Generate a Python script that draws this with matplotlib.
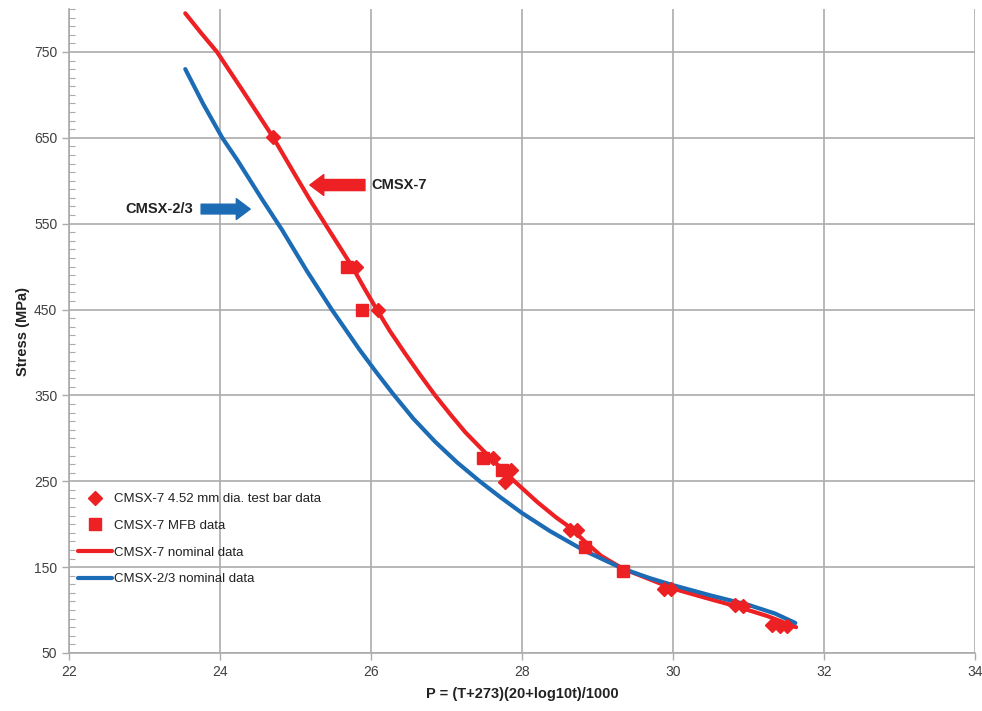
import matplotlib
matplotlib.use("Agg")
import matplotlib.pyplot as plt
from matplotlib.ticker import MultipleLocator

# ---- data ----
test_bar_p = [24.70, 25.80, 26.09, 27.61, 27.85, 27.77, 28.64, 28.73,
              29.88, 29.97, 30.82, 30.93, 31.31, 31.42, 31.51]
test_bar_s = [651, 500, 449, 277, 263, 249, 193, 193,
              124, 124, 106, 105, 83, 82, 82]

mfb_p = [25.68, 25.88, 27.48, 27.73, 28.83, 29.34]
mfb_s = [500, 449, 277, 263, 174, 145]

cmsx7_p = [23.54, 23.75, 23.96, 24.30, 24.70, 25.00, 25.19, 25.39, 25.57,
           25.75, 25.91, 26.07, 26.25, 26.45, 26.65, 26.85, 27.05, 27.25,
           27.45, 27.62, 27.90, 28.20, 28.45, 28.64, 28.83, 29.05, 29.34,
           29.63, 30.00, 30.40, 30.85, 31.25, 31.63]
cmsx7_s = [795, 772, 750, 705, 651, 606, 578, 550, 525,
           500, 475, 451, 425, 399, 374, 350, 328, 307,
           289, 274, 250, 226, 208, 196, 180, 163, 148,
           138, 125, 115, 104, 93, 80]

cmsx23_p = [23.54, 23.78, 24.03, 24.23, 24.56, 24.82, 25.15, 25.48, 25.85,
            26.07, 26.29, 26.56, 26.85, 27.14, 27.44, 27.72, 28.00, 28.37,
            28.83, 29.34, 29.70, 30.00, 30.50, 31.00, 31.35, 31.62]
cmsx23_s = [730, 689, 650, 624, 578, 543, 495, 450, 403,
            377, 352, 323, 296, 272, 250, 231, 213, 192,
            169, 148, 137, 129, 117, 106, 96, 85]

x_ticks = [22, 24, 26, 28, 30, 32, 34]
y_ticks = [50, 150, 250, 350, 450, 550, 650, 750]

RED = "#ED2024"
BLUE = "#1C6BB5"
GRID = "#ABABAB"
TXT = "#404040"

plt.rcParams['font.family'] = ['Liberation Sans', 'DejaVu Sans']

fig = plt.figure(figsize=(9.82, 7.11), dpi=100)
ax = fig.add_axes([69/982, 1-653/711, (975-69)/982, (653-9)/711])

ax.set_xlim(22, 34)
ax.set_ylim(50, 800)
ax.set_xticks(x_ticks)
ax.set_yticks(y_ticks)
ax.yaxis.set_minor_locator(MultipleLocator(10))
ax.grid(True, which='major', color=GRID, linewidth=1.2)
ax.set_axisbelow(True)

for s in ['top', 'right']:
    ax.spines[s].set_visible(False)
for s in ['left', 'bottom']:
    ax.spines[s].set_color(GRID)
    ax.spines[s].set_linewidth(1.2)

ax.tick_params(axis='both', which='major', colors=GRID, labelcolor=TXT,
               labelsize=10, length=5, width=1.0, direction='out')
ax.tick_params(axis='y', which='minor', colors=GRID, length=4, width=0.8,
               direction='in')

ax.plot(cmsx7_p, cmsx7_s, color=RED, linewidth=3, solid_capstyle='round',
        solid_joinstyle='round', label='CMSX-7 nominal data', zorder=3)
ax.plot(cmsx23_p, cmsx23_s, color=BLUE, linewidth=3, solid_capstyle='round',
        solid_joinstyle='round', label='CMSX-2/3 nominal data', zorder=3)
ax.plot(test_bar_p, test_bar_s, linestyle='none', marker='D', markersize=7,
        color=RED, label='CMSX-7 4.52 mm dia. test bar data', zorder=4)
ax.plot(mfb_p, mfb_s, linestyle='none', marker='s', markersize=8,
        color=RED, label='CMSX-7 MFB data', zorder=4)

# annotation arrows
ax.annotate('', xy=(25.19, 595), xytext=(25.92, 595),
            arrowprops=dict(arrowstyle='simple,head_width=1.5,head_length=1.0,tail_width=0.8',
                            mutation_scale=10, color=RED, shrinkA=0, shrinkB=0))
ax.text(26.01, 595, 'CMSX-7', fontsize=10.5, fontweight='bold', color='#222222',
        ha='left', va='center')
ax.annotate('', xy=(24.40, 567), xytext=(23.75, 567),
            arrowprops=dict(arrowstyle='simple,head_width=1.5,head_length=1.0,tail_width=0.7',
                            mutation_scale=10, color=BLUE, shrinkA=0, shrinkB=0))
ax.text(23.65, 567, 'CMSX-2/3', fontsize=10.5, fontweight='bold', color='#222222',
        ha='right', va='center')

ax.set_xlabel('P = (T+273)(20+log10t)/1000', fontsize=10.5, fontweight='bold',
              color='#222222', labelpad=6)
ax.set_ylabel('Stress (MPa)', fontsize=10.5, fontweight='bold', color='#222222',
              labelpad=3)

handles, labels = ax.get_legend_handles_labels()
order = [2, 3, 0, 1]
leg = fig.legend([handles[i] for i in order], [labels[i] for i in order],
                 loc='upper left', bbox_to_anchor=(78/982, 1-493/711),
                 frameon=False, fontsize=9.5, handlelength=2.6,
                 handletextpad=0.1, labelspacing=1.1, borderpad=0,
                 borderaxespad=0)
for t in leg.get_texts():
    t.set_color('#222222')

fig.savefig('out.png', dpi=100)
